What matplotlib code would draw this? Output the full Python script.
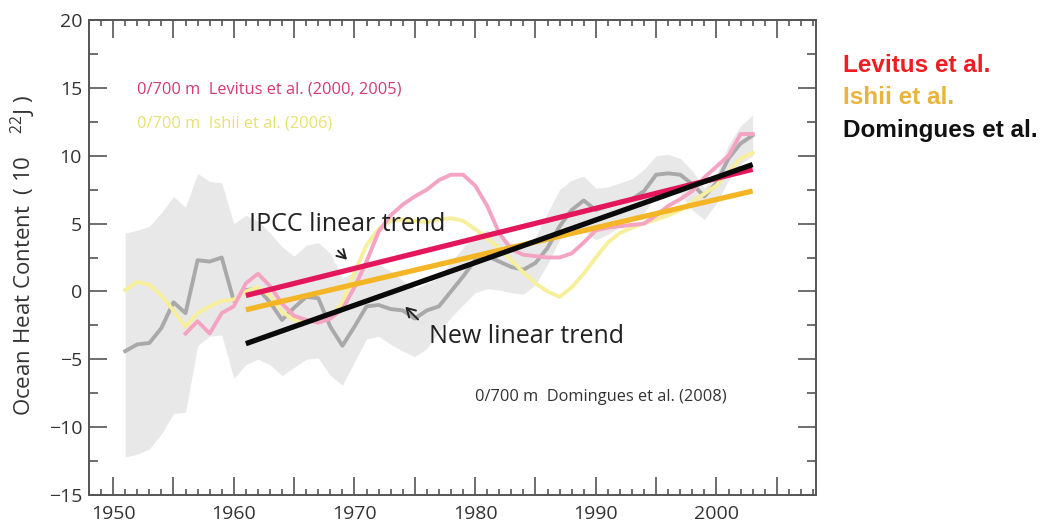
import matplotlib
matplotlib.use("Agg")
import matplotlib.pyplot as plt
from matplotlib.ticker import MultipleLocator, FuncFormatter

plt.rcParams["font.family"] = ["Open Sans", "DejaVu Sans"]
plt.rcParams["mathtext.fontset"] = "custom"
plt.rcParams["mathtext.rm"] = "Open Sans"

# Domingues et al. (2008) annual series and uncertainty envelope
years_dom = list(range(1951, 2004))
domingues = [-4.4, -3.9, -3.8, -2.7, -0.8, -1.6, 2.3, 2.2, 2.5, -0.7,
             0.1, 0.2, -0.8, -2.1, -1.2, -0.4, -0.5, -2.6, -4.0, -2.6,
             -1.1, -1.0, -1.3, -1.4, -2.0, -1.4, -1.1, 0.0, 1.1, 2.3,
             2.6, 2.2, 1.8, 1.6, 2.1, 3.2, 4.8, 6.0, 6.7, 6.0,
             6.3, 6.6, 6.8, 7.4, 8.6, 8.7, 8.6, 7.9, 7.0, 8.0,
             9.8, 10.9, 11.5]
band_upper = [4.3, 4.5, 4.8, 5.8, 7.0, 6.2, 8.7, 8.1, 8.0, 5.0,
              5.6, 5.2, 4.3, 3.3, 2.6, 3.4, 3.6, 2.8, 1.0, 1.4,
              2.3, 2.0, 1.5, 0.8, 0.2, 0.6, 1.0, 2.2, 3.2, 4.2,
              4.5, 4.1, 3.6, 3.2, 4.0, 5.8, 7.5, 8.2, 8.5, 7.6,
              7.7, 8.0, 8.3, 9.0, 10.0, 10.1, 9.8, 8.9, 7.6, 8.7,
              10.8, 12.2, 13.0]
band_lower = [-12.2, -12.0, -11.6, -10.5, -9.0, -8.9, -4.0, -3.3, -3.2, -6.4,
              -5.4, -5.0, -5.4, -6.2, -5.6, -5.0, -4.9, -6.2, -6.9, -5.2,
              -3.5, -3.3, -3.9, -4.4, -4.8, -4.2, -3.0, -1.9, -1.0, -0.1,
              0.2, 0.1, -0.1, -0.2, 0.5, 2.0, 3.8, 4.4, 4.5, 3.8,
              4.2, 4.8, 5.2, 5.8, 7.0, 7.3, 7.2, 6.0, 5.3, 6.5,
              8.2, 9.4, 10.0]

# Ishii et al. (2006)
years_ishii = list(range(1951, 2004))
ishii = [0.1, 0.7, 0.5, -0.3, -1.4, -2.6, -1.6, -1.1, -0.7, -0.6,
         0.0, 0.3, -0.3, -1.5, -2.1, -2.2, -2.2, -1.9, -0.8, 1.4,
         3.4, 4.6, 5.2, 5.3, 5.2, 5.1, 5.3, 5.4, 5.2, 4.6,
         3.9, 3.2, 2.3, 1.4, 0.6, 0.0, -0.4, 0.3, 1.3, 2.5,
         3.6, 4.3, 4.7, 5.0, 5.3, 5.6, 6.0, 6.6, 7.2, 7.8,
         8.8, 9.8, 10.2]

# Levitus et al. (2000, 2005)
years_lev = list(range(1956, 2004))
levitus = [-3.1, -2.2, -3.1, -1.6, -1.1,
           0.6, 1.3, 0.4, -0.9, -1.8, -2.1, -2.3, -2.0, -1.3, 0.3,
           2.2, 4.4, 5.6, 6.4, 7.0, 7.5, 8.2, 8.6, 8.6, 7.8,
           6.3, 4.3, 3.1, 2.7, 2.6, 2.5, 2.5, 2.8, 3.6, 4.5,
           4.7, 4.8, 4.9, 5.0, 5.6, 6.3, 6.8, 7.4, 8.4, 9.2,
           10.0, 11.6, 11.6]

# Linear trends 1961-2003
trend_years = [1961, 2003]
levitus_trend = [-0.3, 9.0]
ishii_trend = [-1.35, 7.4]
domingues_trend = [-3.85, 9.35]

fig = plt.figure(figsize=(10.4, 5.23), dpi=100)
ax = fig.add_axes([89 / 1040, 1 - 495 / 523, (816 - 89) / 1040, 475 / 523])

ax.fill_between(years_dom, band_lower, band_upper, color="#e8e8e8", lw=0, zorder=1)
ax.plot(years_dom, domingues, color="#a9a9a9", lw=2.8, zorder=2)
ax.plot(years_ishii, ishii, color="#f7ef9c", lw=2.8, zorder=3)
ax.plot(years_lev, levitus, color="#f5a3c2", lw=2.8, zorder=4)

ax.plot(trend_years, levitus_trend, color="#e4175c", lw=3.8, zorder=5, solid_capstyle="butt")
ax.plot(trend_years, ishii_trend, color="#f4b526", lw=3.8, zorder=6, solid_capstyle="butt")
ax.plot(trend_years, domingues_trend, color="#0a0a0a", lw=3.8, zorder=7, solid_capstyle="butt")

ax.set_xlim(1948.0, 2008.25)
ax.set_ylim(-15, 20)

ax.xaxis.set_major_locator(MultipleLocator(5))
ax.xaxis.set_minor_locator(MultipleLocator(1))
ax.xaxis.set_major_formatter(FuncFormatter(lambda v, p: f"{int(round(v))}" if round(v) % 10 == 0 else ""))
ax.yaxis.set_major_locator(MultipleLocator(5))
ax.yaxis.set_minor_locator(MultipleLocator(2.5))
ax.yaxis.set_major_formatter(FuncFormatter(lambda v, p: f"{int(round(v))}".replace("-", "\u2212")))

ax.tick_params(which="both", direction="in", top=True, right=True, color="#555555", width=1.2,
               labelsize=14, labelcolor="#333333")
ax.tick_params(axis="x", which="major", length=13, pad=7)
ax.tick_params(axis="x", which="minor", length=4.5)
ax.tick_params(axis="y", which="major", length=13, pad=5)
ax.tick_params(axis="y", which="minor", length=6.5)
for s in ax.spines.values():
    s.set_color("#555555")
    s.set_linewidth(1.4)

ax.set_ylabel("Ocean Heat Content  ( 10    $^{22}$J )", fontsize=16, color="#333333")
ax.yaxis.set_label_coords(-0.070, 0.505)

ax.text(1951.97, 14.6, "0/700 m  Levitus et al. (2000, 2005)", fontsize=11.8, color="#d23a76", zorder=8)
ax.text(1951.97, 12.1, "0/700 m  Ishii et al. (2006)", fontsize=11.8, color="#e9e072", zorder=8)
ax.text(1980.0, -8.1, "0/700 m  Domingues et al. (2008)", fontsize=11.8, color="#333333", zorder=8)

ax.text(1961.27, 4.42, "IPCC linear trend", fontsize=18, color="#222222", zorder=8)
ax.text(1976.2, -3.8, "New linear trend", fontsize=18, color="#222222", zorder=8)
arrow_style = dict(arrowstyle="->,head_length=0.6,head_width=0.35", color="#222222", lw=1.4)
ax.annotate("", xy=(1969.55, 2.19), xytext=(1968.48, 3.15), arrowprops=arrow_style, zorder=8)
ax.annotate("", xy=(1974.05, -0.98), xytext=(1975.43, -2.21), arrowprops=arrow_style, zorder=8)

fig.text(843 / 1040, 1 - 71.7 / 523, "Levitus et al.", fontsize=17.5, fontweight="bold",
         color="#f01c24", family=["Liberation Sans", "DejaVu Sans"])
fig.text(843 / 1040, 1 - 103.5 / 523, "Ishii et al.", fontsize=17.5, fontweight="bold",
         color="#e9b43a", family=["Liberation Sans", "DejaVu Sans"])
fig.text(843 / 1040, 1 - 136.7 / 523, "Domingues et al.", fontsize=17.5, fontweight="bold",
         color="#111111", family=["Liberation Sans", "DejaVu Sans"])

fig.savefig("out.png", dpi=100)
